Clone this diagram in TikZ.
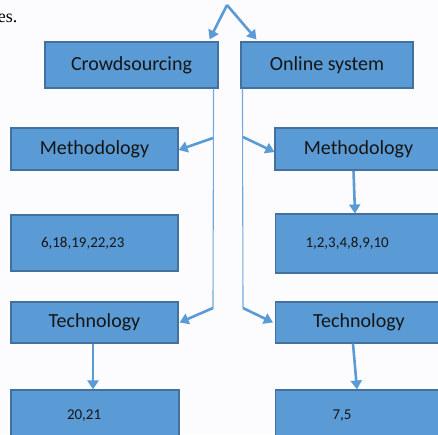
\documentclass[tikz,border=0pt]{standalone}
\usepackage{fontspec}
\setmainfont{Carlito}
\newfontfamily\serifface{Liberation Serif}
\usetikzlibrary{arrows.meta}
\definecolor{boxfill}{HTML}{5B9BD5}
\definecolor{boxline}{HTML}{41719C}
\definecolor{linkblue}{HTML}{5B9BD5}
\definecolor{inkdark}{HTML}{151515}
\definecolor{paper}{HTML}{FCFCFE}
\begin{document}
\begin{tikzpicture}[x=1pt,y=-1pt,
  box/.style={draw=boxline,fill=boxfill,line width=1.1pt,text=inkdark,
    inner sep=0pt,font=\fontsize{20}{24}\selectfont},
  numbox/.style={box,font=\fontsize{15}{18}\selectfont,align=left,
    inner xsep=#1},
  arr/.style={draw=linkblue,line width=2.6pt,
    -{Triangle[width=11pt,length=9pt]}},
  rail/.style={draw=linkblue!85,line width=1.1pt}]
\useasboundingbox (0,0) rectangle (438,434);
\clip (0,0) rectangle (438,434);
\fill[paper] (0,0) rectangle (438,434);

% trailing word of the preceding sentence
\node[anchor=base east,inner sep=0pt,font=\serifface\fontsize{18}{20}\selectfont]
  (tail) at (17.5,22.5) {es.};

% top level
\node[box,minimum width=173pt,minimum height=46pt] (crowd) at (131.5,65) {Crowdsourcing};
\node[box,minimum width=172pt,minimum height=46pt] (online) at (327,65) {Online system};

% second level
\node[box,minimum width=167pt,minimum height=42pt] (methL) at (94.5,149) {Methodology};
\node[box,minimum width=167pt,minimum height=42pt] (methR) at (358.5,149) {Methodology};

\node[numbox=30pt,text width=107pt,minimum height=56pt] (numL) at (94.5,243) {6,18,19,22,23};
\node[numbox=30pt,text width=107pt,minimum height=59pt] (numR) at (359,243.5) {1,2,3,4,8,9,10};

\node[box,minimum width=167pt,minimum height=41pt] (techL) at (94.5,322.5) {Technology};
\node[box,minimum width=167pt,minimum height=41pt] (techR) at (359,322.5) {Technology};

\node[numbox=56pt,text width=56pt,minimum height=52pt] (botL) at (95,416) {20,21};
\node[numbox=57pt,text width=53pt,minimum height=52pt] (botR) at (359,416) {7,5};

% branching from the top
\coordinate (apex) at (227,5);
\draw[arr] (apex) -- ([xshift=-9pt,yshift=2pt]crowd.north east);
\draw[arr] (apex) -- ([xshift=16pt,yshift=2pt]online.north west);

% vertical rails with their branch points
\coordinate (cl1) at (213,138);
\coordinate (cl2) at (213,308);
\coordinate (cr1) at (243,137);
\coordinate (cr2) at (243,308);
\draw[rail] ([xshift=-5pt]crowd.south east) -- (cl2);
\draw[rail] ([xshift=2pt]online.south west) -- (cr2);

\draw[arr] (cl1) -- ([yshift=-1pt]methL.east);
\draw[arr] (cr1) -- ([yshift=-3pt]methR.west);
\draw[arr] (cl2) -- ([xshift=1pt]techL.east);
\draw[arr] (cr2) -- ([xshift=-2pt]techR.west);

% downward links
\draw[arr] ([xshift=-5pt]methR.south) -- ([xshift=-4pt]numR.north);
\draw[arr] ([xshift=-1.5pt]techL.south) -- ([xshift=-2pt]botL.north);
\draw[arr] ([xshift=-6pt]techR.south) -- ([xshift=-2pt]botR.north);
\end{tikzpicture}
\end{document}
